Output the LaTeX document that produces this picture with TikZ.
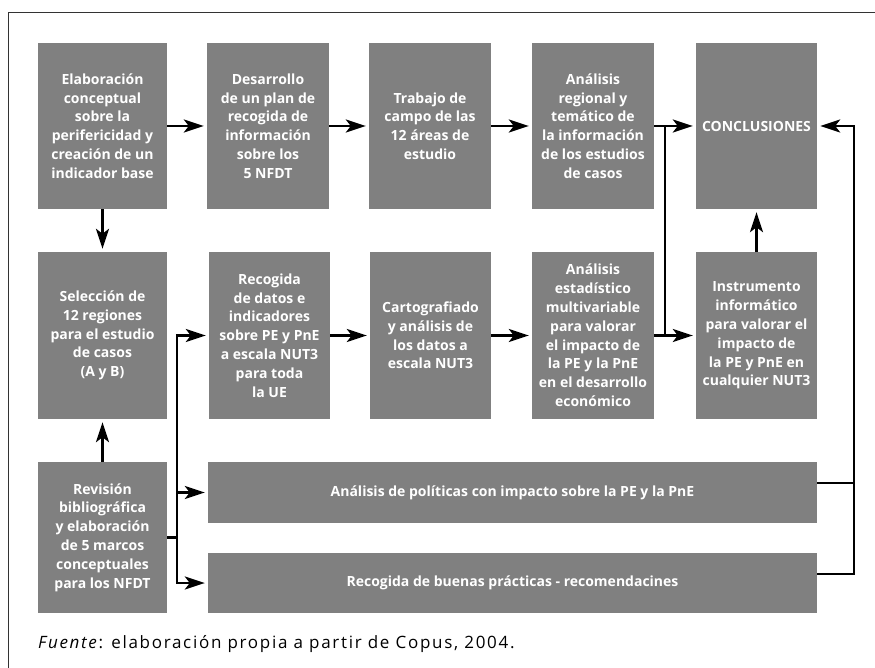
\documentclass[tikz,border=0pt]{standalone}
\usepackage{fontspec}
\setmainfont{Open Sans}
\usetikzlibrary{arrows.meta}
\definecolor{boxgray}{RGB}{128,128,128}
\begin{document}
\begin{tikzpicture}[x=1pt,y=-1pt,
  box/.style={fill=boxgray, text=white, align=center, inner sep=0pt,
    font=\bfseries\fontsize{14}{18.8}\selectfont},
  conn/.style={line width=2.4pt},
  arr/.style={conn, -{Stealth[length=20pt,width=13pt,inset=5pt]}, shorten >=3pt}]
\useasboundingbox (0,0) rectangle (875,668);
\draw[line width=0.8pt, black!80] (8,668) -- (8,12) -- (875,12);
% row 1
\node[box, minimum width=129pt, minimum height=166pt] (b1) at (102.5,126)
  {Elaboración\\conceptual\\sobre la\\perifericidad y\\creación de un\\indicador base};
\node[box, minimum width=122pt, minimum height=166pt] (b2) at (268,126)
  {Desarrollo\\de un plan de\\recogida de\\información\\sobre los\\5 NFDT};
\node[box, minimum width=122pt, minimum height=166pt] (b3) at (430,126)
  {Trabajo de\\campo de las\\12 áreas de\\estudio};
\node[box, minimum width=122pt, minimum height=166pt] (b4) at (593,126)
  {Análisis\\regional y\\temático de\\la información\\de los estudios\\de casos};
\node[box, minimum width=121pt, minimum height=166pt] (b5) at (756.5,126)
  {CONCLUSIONES};
% row 2
\node[box, minimum width=129pt, minimum height=167pt] (b6) at (102.5,335.5)
  {Selección de\\12 regiones\\para el estudio\\de casos\\(A y B)};
\node[box, minimum width=121pt, minimum height=167pt] (b7) at (269.5,335.5)
  {Recogida\\de datos e\\indicadores\\sobre PE y PnE\\a escala NUT3\\para toda\\la UE};
\node[box, minimum width=121pt, minimum height=167pt] (b8) at (430.5,335.5)
  {Cartografiado\\y análisis de\\los datos a\\escala NUT3};
\node[box, minimum width=122pt, minimum height=167pt] (b9) at (593,335.5)
  {Análisis\\estadístico\\multivariable\\para valorar\\el impacto de\\la PE y la PnE\\en el desarrollo\\económico};
\node[box, minimum width=121pt, minimum height=167pt] (b10) at (756.5,335.5)
  {Instrumento\\informático\\para valorar el\\impacto de\\la PE y PnE en\\cualquier NUT3};
% row 3
\node[box, minimum width=129pt, minimum height=151pt] (rev) at (102.5,537.5)
  {Revisión\\bibliográfica\\y elaboración\\de 5 marcos\\conceptuales\\para los NFDT};
\node[box, minimum width=609pt, minimum height=61pt] (w1) at (512.5,492.5)
  {Análisis de políticas con impacto sobre la PE y la PnE};
\node[box, minimum width=609pt, minimum height=60pt] (w2) at (512.5,583)
  {Recogida de buenas prácticas - recomendacines};
% caption
\node[anchor=base west, inner sep=0pt, font=\fontsize{17}{20}\selectfont\addfontfeatures{LetterSpace=10}] (cap) at (38,648)
  {\textit{Fuente}: elaboración propia a partir de Copus, 2004.};
% junction coordinates
\coordinate (j1) at (665,126);
\coordinate (j2) at (665,335.5);
\coordinate (r1) at (177,335.5);
\coordinate (q0) at (854,126);
\coordinate (q1) at (854,483);
\coordinate (q2) at (854,574);
% connectors
\draw[arr] (b1.east) -- (b2.west);
\draw[arr] (b2.east) -- (b3.west);
\draw[arr] (b3.east) -- (b4.west);
\draw[arr] (b4.east) -- (b5.west);
\draw[conn] (j1) -- (j2);
\draw[arr] (b9.east) -- (b10.west);
\draw[arr] (b8.east) -- (b9.west);
\draw[arr] (b7.east) -- (b8.west);
\draw[arr] (b10.north) -- (b5.south);
\draw[arr] (b1.south) -- (b6.north);
\draw[arr] (rev.north) -- (b6.south);
\draw[conn] (rev.east) -- (rev.east -| r1);
\draw[arr] ([xshift=-1.2pt]r1) -- (b7.west);
\draw[arr] (r1) |- (w2.west);
\draw[arr] (w1.west -| r1) -- (w1.west);
\draw[conn] (w1.east |- q1) -- (q1);
\draw[arr] (w2.east |- q2) -| (q0) -- (b5.east);
\end{tikzpicture}
\end{document}
